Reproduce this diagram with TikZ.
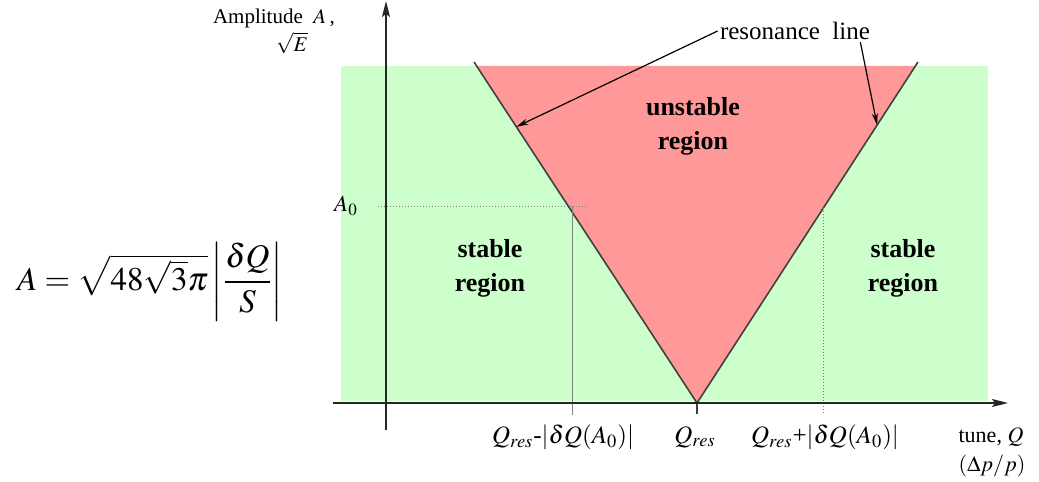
\documentclass[tikz,border=0pt]{standalone}
\usepackage{amsmath}
\usepackage{mathptmx}
\usepackage{fontspec}
\setmainfont{Liberation Serif}
\usetikzlibrary{arrows.meta,positioning,calc}
\definecolor{stablebg}{RGB}{204,255,204}
\definecolor{unstablebg}{RGB}{255,153,153}
\definecolor{edgegray}{RGB}{64,64,64}

\begin{document}
\begin{tikzpicture}[x=0.5pt, y=-0.5pt,
  lab/.style={font=\fontsize{10}{12}\selectfont, inner sep=1pt},
  tick/.style={font=\fontsize{12.5}{14}\selectfont, inner sep=1pt},
  reg/.style={font=\fontsize{13}{17}\selectfont\bfseries, align=center},
  axis/.style={-{Stealth[length=8pt, width=4pt, inset=1.5pt]}, line width=0.8pt, black!85},
  arr/.style={-{Stealth[length=6pt, width=3pt]}, line width=0.6pt},
  edge/.style={edgegray, line width=0.8pt},
  guide/.style={gray, line width=0.5pt}]
  \useasboundingbox (0,0) rectangle (1039,482);
  \fill[stablebg] (341,66) rectangle (988,401);
  \coordinate (tl) at (474,62); \coordinate (tr) at (918,62); \coordinate (v) at (697,403);
  \fill[unstablebg] ($(tl)!0.0117!(v)$) -- ($(tr)!0.0117!(v)$) -- (v) -- cycle;
  \draw[edge] (tl) -- (v) -- (tr);

  \coordinate (a0s) at (378,206); \coordinate (a0e) at (587,206);
  \coordinate (lq) at (572,206); \coordinate (lqb) at (572,415);
  \coordinate (rq) at (823,208); \coordinate (rqb) at (823,413);
  \coordinate (vt) at (697,414);
  \draw[guide, densely dotted] (a0s) -- (a0e);
  \draw[guide] (lq) -- (lqb);
  \draw[guide, densely dotted] (rq) -- (rqb);
  \draw[edge] (v) -- (vt);

  \coordinate (ybot) at (386,430); \coordinate (ytop) at (386,1);
  \coordinate (xl) at (333,403); \coordinate (xr) at (1008,403);
  \draw[axis] (ybot) -- (ytop); \draw[axis] (xl) -- (xr);

  \node[lab, font=\fontsize{10.5}{12}\selectfont] (amp) at (274,18) {Amplitude\ \ $A$\,,};
  \node[lab, font=\fontsize{10.5}{12}\selectfont] (sqE) at (292,43) {$\sqrt{E}$};
  \node[lab, font=\fontsize{11.5}{13}\selectfont] (a0l) at (346,206) {$A_0$};

  \node[lab, font=\fontsize{12.5}{14}\selectfont] (res) at (795,31) {resonance\ \ line};
  \coordinate (hl) at ($(tl)!0.19!(v)$); \coordinate (hr) at ($(tr)!0.185!(v)$);
  \draw[arr] (res.west) -- (hl);
  \draw[arr] ([xshift=-6pt]res.south east) -- (hr);

  \node[reg] (un) at (693,126) {unstable\\region};
  \node[reg] (sl) at (490,268) {stable\\region};
  \node[reg] (sr) at (903,268) {stable\\region};

  \node[tick] (q1) at (563,437) {$Q_{res}$-$|\delta Q(A_0)|$};
  \node[tick] (q2) at (695,437) {$Q_{res}$};
  \node[tick] (q3) at (825,437) {$Q_{res}$+$|\delta Q(A_0)|$};
  \node[lab, font=\fontsize{11}{13}\selectfont] (tune) at (991,437) {tune, $Q$};
  \node[lab, font=\fontsize{11}{13}\selectfont] (dp) at (992,466) {$(\Delta p/p)$};

  \node (eq) at (150,282) {\fontsize{16.5}{20}\selectfont $A=\sqrt{48\sqrt{3}\pi}\left|\dfrac{\delta Q}{S}\right|$};
\end{tikzpicture}
\end{document}
